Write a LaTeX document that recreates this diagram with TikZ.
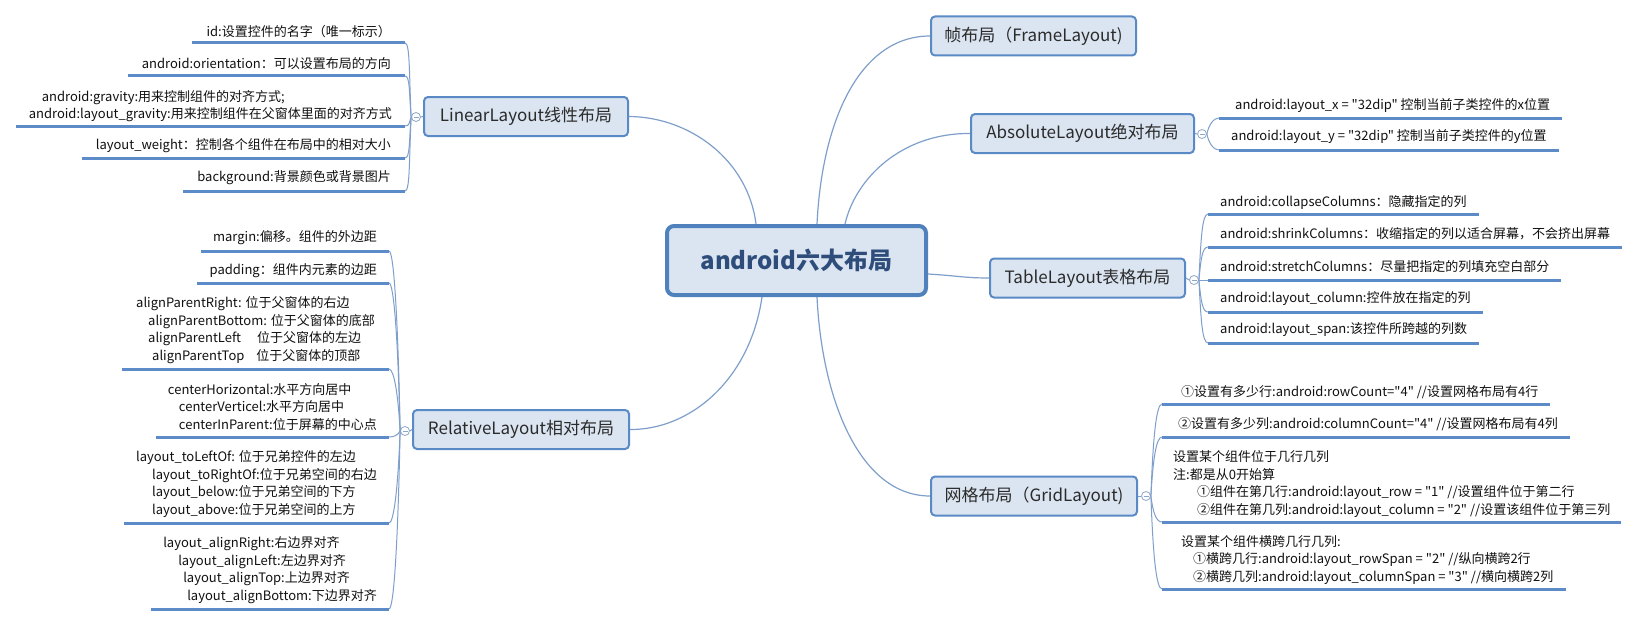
\documentclass[tikz,border=0pt]{standalone}
\usepackage{fontspec}
\setmainfont{Noto Sans CJK SC}[Ligatures=TeXOff]
\usetikzlibrary{calc}
\definecolor{boxfill}{HTML}{DBE5F1}
\definecolor{boxline}{HTML}{5A8AC6}
\definecolor{cline}{HTML}{4F81BD}
\definecolor{ctext}{HTML}{2E4D7B}
\definecolor{btext}{HTML}{2B2B2B}
\definecolor{ulc}{HTML}{5B8BC9}
\definecolor{thinc}{HTML}{7F9FCB}
\definecolor{foldc}{HTML}{8FA8C8}
\definecolor{txt}{HTML}{111111}
\pgfdeclarelayer{bg}
\pgfsetlayers{bg,main}
\begin{document}
\begin{tikzpicture}[x=1pt,y=-1pt,
 central/.style={draw=cline,line width=4pt,fill=boxfill,rounded corners=7pt,inner sep=0pt,minimum width=259pt,minimum height=69pt,font=\fontsize{24}{28}\selectfont\bfseries,text=ctext},
 branch/.style={draw=boxline,line width=2pt,fill=boxfill,rounded corners=4pt,inner sep=0pt,minimum height=39pt,font=\fontsize{17}{20}\selectfont,text=btext},
 leaf/.style={inner xsep=12pt,inner ysep=2pt,font=\fontsize{13}{17.7}\selectfont,text=txt},
 leafm/.style={leaf,align=left},
 uline/.style={draw=ulc,line width=3pt},
 spine/.style={draw=thinc,line width=1pt},
 link/.style={draw=thinc,line width=1.2pt},
 fold/.style={circle,draw=foldc,fill=white,line width=0.8pt,minimum size=9pt,inner sep=0pt,
   path picture={\draw[foldc,line width=0.8pt] ($(path picture bounding box.center)+(-2.5,0)$) -- ($(path picture bounding box.center)+(2.5,0)$);}}
]
\begin{pgfonlayer}{bg}
\fill[white] (0,0) rectangle (1644,626);
\end{pgfonlayer}
\useasboundingbox (0,0) rectangle (1644,626);

% central and branches
\node[central] (c) at (796.5,260.5) {android六大布局};
\node[branch,minimum width=204pt] (lin) at (526,116.5) {LinearLayout线性布局};
\node[branch,minimum width=216pt] (rel) at (521,429.5) {RelativeLayout相对布局};
\node[branch,minimum width=205pt] (frm) at (1033.5,36) {帧布局（FrameLayout)};
\node[branch,minimum width=223pt] (abs) at (1082.5,133.5) {AbsoluteLayout绝对布局};
\node[branch,minimum width=195pt] (tbl) at (1087.5,278) {TableLayout表格布局};
\node[branch,minimum width=206pt] (grd) at (1034,496) {网格布局（GridLayout)};

% fold circles
\node[fold] (lc) at (416,117) {};
\node[fold] (rc) at (405,431) {};
\node[fold] (ac) at (1202,134) {};
\node[fold] (tc) at (1194,280) {};
\node[fold] (gc) at (1146,496) {};

% main links
\begin{pgfonlayer}{bg}
\draw[link] ($(c.north)+(-40.5,0)$) .. controls (748,160) and (690,117) .. (lin.east);
\draw[link] ($(c.north)+(20.5,0)$) .. controls (822,120) and (860,36) .. (frm.west);
\draw[link] ($(c.north)+(48.5,0)$) .. controls (855,180) and (900,133) .. (abs.west);
\draw[link] ($(c.east)+(0,13.5)$) .. controls (960,276) and (965,278) .. (tbl.west);
\draw[link] ($(c.south)+(20.5,0)$) .. controls (822,400) and (860,496) .. (grd.west);
\draw[link] ($(c.south)+(-34.5,0)$) .. controls (750,380) and (690,430) .. (rel.east);
\end{pgfonlayer}

\draw[spine] (lin.west) -- (lc.east);
\draw[spine] (rel.west) -- (rc.east);
\draw[spine] (abs.east) -- (ac.west);
\draw[spine] (tbl.east) -- (tc.west);
\draw[spine] (grd.east) -- (gc.west);

% ---- LinearLayout leaves
\coordinate (ul1) at (405,43);
\coordinate (ul2) at (405,76);
\coordinate (ul3) at (405,126);
\coordinate (ul4) at (405,158);
\coordinate (ul5) at (405,191);
\node[leaf,inner xsep=14pt,anchor=east] (l1) at (405,32) {id:设置控件的名字（唯一标示）};
\node[leaf,inner xsep=14pt,anchor=east] (l2) at (405,64) {android:orientation：可以设置布局的方向};
\node[leafm,inner xsep=13pt,anchor=east] (l3) at (405,106) {\hspace*{13pt}android:gravity:用来控制组件的对齐方式;\\android:layout\_gravity:用来控制组件在父窗体里面的对齐方式};
\node[leaf,inner xsep=14pt,anchor=east] (l4) at (405,146) {layout\_weight：控制各个组件在布局中的相对大小};
\node[leaf,inner xsep=14pt,anchor=east] (l5) at (405,178) {background:背景颜色或背景图片};
\foreach \i in {1,...,5}{\draw[uline] (l\i.west |- ul\i) -- (ul\i);}
\draw[spine] (ul1) .. controls +(5,0) and +(-2,-44) .. (lc.west);
\draw[spine] (ul2) .. controls +(5,0) and +(-2,-25) .. (lc.west);
\draw[spine] (ul3) .. controls +(5,0) and +(-2,5) .. (lc.west);
\draw[spine] (ul4) .. controls +(5,0) and +(-2,25) .. (lc.west);
\draw[spine] (ul5) .. controls +(5,0) and +(-2,44) .. (lc.west);

% ---- RelativeLayout leaves
\coordinate (ur1) at (389,251);
\coordinate (ur2) at (389,283);
\coordinate (ur3) at (389,369);
\coordinate (ur4) at (389,437);
\coordinate (ur5) at (389,523);
\coordinate (ur6) at (389,609);
\node[leaf,anchor=east] (r1) at (389,238) {margin:偏移。组件的外边距};
\node[leaf,anchor=east] (r2) at (389,271) {padding：组件内元素的边距};
\node[leafm,inner xsep=14pt,anchor=east] (r3) at (389,330) {alignParentRight: 位于父窗体的右边\\\hspace*{12pt}alignParentBottom: 位于父窗体的底部\\\hspace*{12pt}alignParentLeft\hspace{16pt}位于父窗体的左边\\\hspace*{16pt}alignParentTop\hspace{12pt}位于父窗体的顶部};
\node[leafm,anchor=east] (r4) at (389,407) {centerHorizontal:水平方向居中\\\hspace*{11pt}centerVerticel:水平方向居中\\\hspace*{11pt}centerInParent:位于屏幕的中心点};
\node[leafm,anchor=east] (r5) at (389,484) {layout\_toLeftOf: 位于兄弟控件的左边\\\hspace*{16pt}layout\_toRightOf:位于兄弟空间的右边\\\hspace*{16pt}layout\_below:位于兄弟空间的下方\\\hspace*{16pt}layout\_above:位于兄弟空间的上方};
\node[leafm,anchor=east] (r6) at (389,570) {layout\_alignRight:右边界对齐\\\hspace*{15pt}layout\_alignLeft:左边界对齐\\\hspace*{20pt}layout\_alignTop:上边界对齐\\\hspace*{24pt}layout\_alignBottom:下边界对齐};
\foreach \i in {1,...,6}{\draw[uline] (r\i.west |- ur\i) -- (ur\i);}
\draw[spine] (ur1) .. controls +(5,0) and +(-2,-108) .. (rc.west);
\draw[spine] (ur2) .. controls +(5,0) and +(-2,-89) .. (rc.west);
\draw[spine] (ur3) .. controls +(5,0) and +(-2,-37) .. (rc.west);
\draw[spine] (ur4) .. controls +(5,0) and +(-2,4) .. (rc.west);
\draw[spine] (ur5) .. controls +(5,0) and +(-2,55) .. (rc.west);
\draw[spine] (ur6) .. controls +(5,0) and +(-2,107) .. (rc.west);

% ---- AbsoluteLayout leaves
\coordinate (ua1) at (1219,118);
\coordinate (ua2) at (1219,150);
\node[leaf,anchor=west] (a1) at (1219,106) {\hspace*{4pt}android:layout\_x = "32dip" 控制当前子类控件的x位置};
\node[leaf,anchor=west] (a2) at (1219,137) {android:layout\_y = "32dip" 控制当前子类控件的y位置};
\foreach \i in {1,2}{\draw[uline] (ua\i) -- (a\i.east |- ua\i);}
\draw[spine] (ua1) .. controls +(-5,0) and +(2,-10) .. (ac.east);
\draw[spine] (ua2) .. controls +(-5,0) and +(2,10) .. (ac.east);

% ---- TableLayout leaves
\coordinate (ut1) at (1208,214);
\coordinate (ut2) at (1208,247);
\coordinate (ut3) at (1208,280);
\coordinate (ut4) at (1208,312);
\coordinate (ut5) at (1208,343);
\node[leaf,anchor=west] (t1) at (1208,202) {android:collapseColumns：隐藏指定的列};
\node[leaf,anchor=west] (t2) at (1208,234) {android:shrinkColumns：收缩指定的列以适合屏幕，不会挤出屏幕};
\node[leaf,anchor=west] (t3) at (1208,267) {android:stretchColumns：尽量把指定的列填充空白部分};
\node[leaf,anchor=west] (t4) at (1208,299) {android:layout\_column:控件放在指定的列};
\node[leaf,anchor=west] (t5) at (1208,330) {android:layout\_span:该控件所跨越的列数};
\foreach \i in {1,...,5}{\draw[uline] (ut\i) -- (t\i.east |- ut\i);}
\draw[spine] (ut1) .. controls +(-6,0) and +(2,-40) .. (tc.east);
\draw[spine] (ut2) .. controls +(-6,0) and +(2,-20) .. (tc.east);
\draw[spine] (ut3) -- (tc.east);
\draw[spine] (ut4) .. controls +(-6,0) and +(2,19) .. (tc.east);
\draw[spine] (ut5) .. controls +(-6,0) and +(2,38) .. (tc.east);

% ---- GridLayout leaves
\coordinate (ug1) at (1162,404);
\coordinate (ug2) at (1162,437);
\coordinate (ug3) at (1162,522);
\coordinate (ug4) at (1162,589);
\node[leaf,anchor=west] (g1) at (1162,392) {\hspace*{7pt}①设置有多少行:android:rowCount="4" //设置网格布局有4行};
\node[leaf,anchor=west] (g2) at (1162,424) {\hspace*{4pt}②设置有多少列:android:columnCount="4" //设置网格布局有4列};
\node[leafm,inner xsep=11pt,anchor=west] (g3) at (1162,484) {设置某个组件位于几行几列\\注:都是从0开始算\\\hspace*{24pt}①组件在第几行:android:layout\_row = "1" //设置组件位于第二行\\\hspace*{24pt}②组件在第几列:android:layout\_column = "2" //设置该组件位于第三列};
\node[leafm,anchor=west] (g4) at (1162,560) {\hspace*{7pt}设置某个组件横跨几行几列:\\\hspace*{19pt}①横跨几行:android:layout\_rowSpan = "2" //纵向横跨2行\\\hspace*{19pt}②横跨几列:android:layout\_columnSpan = "3" //横向横跨2列};
\foreach \i in {1,...,4}{\draw[uline] (ug\i) -- (g\i.east |- ug\i);}
\draw[spine] (ug1) .. controls +(-6,0) and +(2,-55) .. (gc.east);
\draw[spine] (ug2) .. controls +(-6,0) and +(2,-35) .. (gc.east);
\draw[spine] (ug3) .. controls +(-6,0) and +(2,16) .. (gc.east);
\draw[spine] (ug4) .. controls +(-6,0) and +(2,56) .. (gc.east);
\end{tikzpicture}
\end{document}
